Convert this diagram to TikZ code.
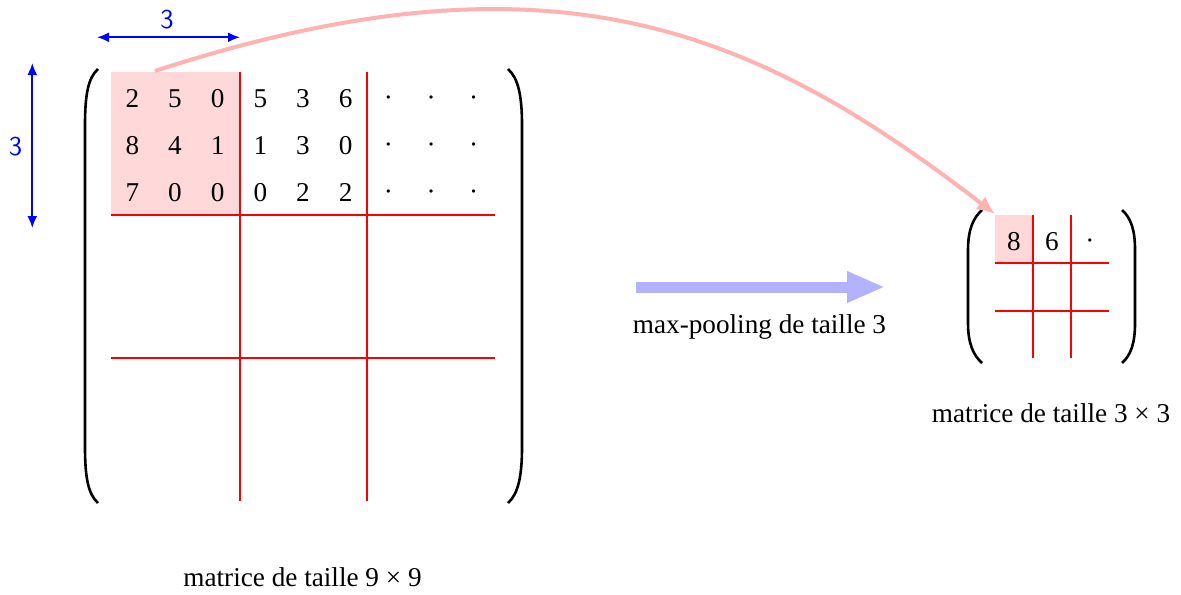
\documentclass[tikz,border=0pt]{standalone}
\usepackage{fontspec}
\setmainfont{Liberation Serif}
\usetikzlibrary{arrows.meta}
\newcommand{\mdot}{\raisebox{0.4pt}{·}}
\begin{document}
\begin{tikzpicture}[x=0.5pt,y=-0.5pt,
  txt/.style={font=\fontsize{13.6}{16}\selectfont, inner sep=0pt},
  num/.style={txt, anchor=base},
  gridline/.style={red, line width=1pt},
  paren/.style={black, line width=1.3pt},
  dimarrow/.style={blue, line width=1pt, {Latex[length=6pt,width=5pt]}-{Latex[length=6pt,width=5pt]}},
  dimlabel/.style={txt, text=blue, font=\sffamily\fontsize{13.6}{16}\selectfont},
  pinkcell/.style={fill=red!15, draw=none},
  pool/.style={blue!30, line width=5.5pt, -{Triangle[length=19pt,width=14.5pt]}},
  link/.style={red!30, line width=2pt, -{Latex[length=9pt,width=8pt]}},
]
\useasboundingbox (0,0) rectangle (1181,594);

% ---------- big matrix ----------
\fill[pinkcell] (111,72) rectangle (240,215);
\coordinate (blkstart) at (155,71);
\foreach \x in {240,367} \draw[gridline] (\x,72) -- (\x,501);
\foreach \y in {215,358} \draw[gridline] (111,\y) -- (495,\y);

\foreach \v [count=\c] in {2,5,0,5,3,6,\mdot,\mdot,\mdot}
  \node[num] (ba\c) at ({111+42.67*(\c-0.5)},107) {\v};
\foreach \v [count=\c] in {8,4,1,1,3,0,\mdot,\mdot,\mdot}
  \node[num] (bb\c) at ({111+42.67*(\c-0.5)},154) {\v};
\foreach \v [count=\c] in {7,0,0,0,2,2,\mdot,\mdot,\mdot}
  \node[num] (bc\c) at ({111+42.67*(\c-0.5)},201.5) {\v};

% parentheses
\draw[paren] (98,69) .. controls (88,78) and (85,95) .. (85,125) -- (85,447)
  .. controls (85,477) and (88,494) .. (98,503);
\draw[paren] (508,69) .. controls (518,78) and (522,95) .. (522,125) -- (522,447)
  .. controls (522,477) and (518,494) .. (508,503);

% dimension arrows
\coordinate (hl) at (97,37.3);
\coordinate (hr) at (240,37.3);
\draw[dimarrow] (hl) -- (hr);
\node[dimlabel] (hlab) at (167,20) {3};
\coordinate (vt) at (32.3,63);
\coordinate (vb) at (32.3,228);
\draw[dimarrow] (vt) -- (vb);
\node[dimlabel] (vlab) at (15.5,146.5) {3};

\node[txt] (bigcap) at (302.5,577) {matrice de taille 9 × 9};

% ---------- pooling arrow ----------
\coordinate (pl) at (636,287);
\coordinate (pr) at (885,287);
\draw[pool] (pl) -- (pr);
\node[txt] (poolcap) at (759.5,327) {max-pooling de taille 3};

% ---------- small matrix ----------
\fill[pinkcell] (995,215) rectangle (1033,263);
\coordinate (cellnw) at (995,214);
\foreach \x in {1033,1071} \draw[gridline] (\x,215) -- (\x,358);
\foreach \y in {263,311} \draw[gridline] (995,\y) -- (1109,\y);
\node[num] (s1) at (1014,250) {8};
\node[num] (s2) at (1052,250) {6};
\node[num] (s3) at (1090,250) {\mdot};

\draw[paren] (982,210) .. controls (973,218) and (968,230) .. (968,250) -- (968,323)
  .. controls (968,343) and (973,355) .. (982,363);
\draw[paren] (1122,210) .. controls (1131,218) and (1135,230) .. (1135,250) -- (1135,323)
  .. controls (1135,343) and (1131,355) .. (1122,363);

\node[txt] (smallcap) at (1051,413) {matrice de taille 3 × 3};

% ---------- curved link ----------
\draw[link] (blkstart) .. controls (554,-59) and (756,30) .. (cellnw);
\end{tikzpicture}
\end{document}
